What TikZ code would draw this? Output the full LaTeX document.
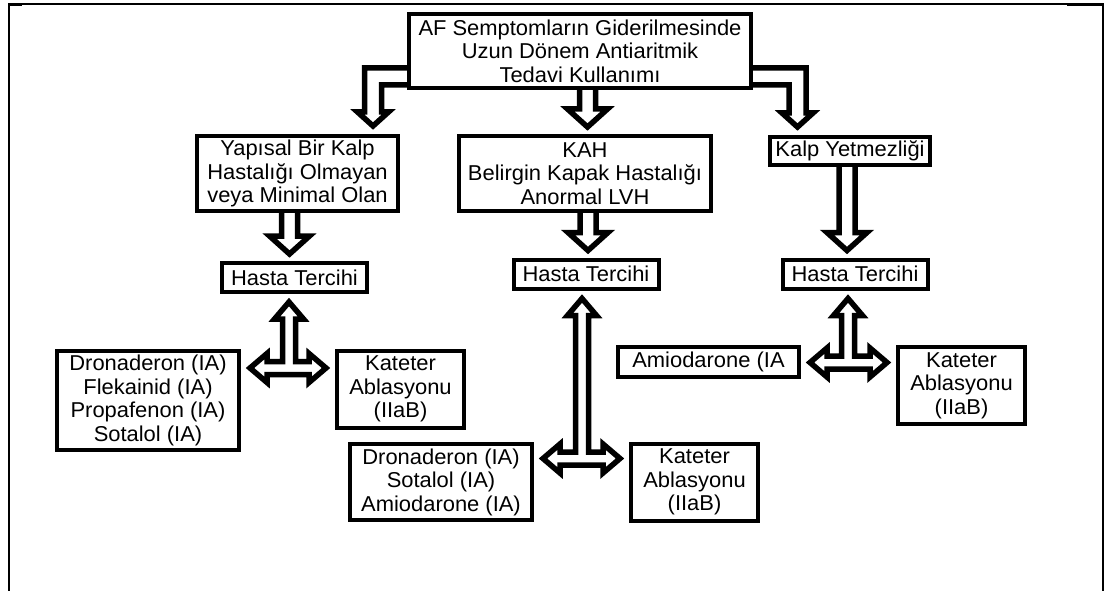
\documentclass[tikz,border=0pt]{standalone}
\usepackage{fontspec}
\setmainfont{Liberation Sans}[FakeStretch=1.02]
\usepackage{tikz}
\usetikzlibrary{calc}
\pgfdeclarelayer{background}
\pgfsetlayers{background,main}
\tikzstyle{box}=[draw,line width=4pt,fill=white,align=center,inner sep=0pt,font=\fontsize{21.5}{23.5}\selectfont]
\tikzstyle{block}=[draw,line width=5.5pt,fill=white]
\tikzstyle{frame}=[draw,line width=2pt]

\begin{document}
\begin{tikzpicture}[x=1pt,y=-1pt]
    \useasboundingbox (0,0) rectangle (1105,591);
    % outer frame
    \draw[frame] (9,591) -- (9,4) -- (1103,4) -- (1103,591);
    \draw[line width=3pt] (9,5) -- (22,5);
    \draw[line width=2pt] (1067,5.5) -- (1103,5.5);

    % First we draw the boxes
    \node[box,minimum width=342,minimum height=74] (top) at (580,51) {AF Semptomların Giderilmesinde\\Uzun Dönem Antiaritmik\\Tedavi Kullanımı};
    \node[box,minimum width=201,minimum height=75] (yapi) at (297.5,173.5) {Yapısal Bir Kalp\\Hastalığı Olmayan\\veya Minimal Olan};
    \node[box,minimum width=252,minimum height=75] (kah) at (585,173.5) {KAH\\Belirgin Kapak Hastalığı\\Anormal LVH};
    \node[box,minimum width=160,minimum height=28] (kalp) at (850,151) {Kalp Yetmezliği};

    \foreach \pos/\name in {{(294.5,277.5)/hasta1}, {(586,274)/hasta2}, {(855,274)/hasta3}}
        \node[box,minimum width=145,minimum height=29] (\name) at \pos {Hasta Tercihi};

    \node[box,minimum width=182,minimum height=99] (ilac1) at (148,400.5) {Dronaderon (IA)\\Flekainid (IA)\\Propafenon (IA)\\Sotalol (IA)};
    \node[box,minimum width=182,minimum height=76] (ilac2) at (441,482) {Dronaderon (IA)\\Sotalol (IA)\\Amiodarone (IA)};
    \node[box,minimum width=181,minimum height=30] (amio) at (708.5,362) {Amiodarone (IA};

    \foreach \pos/\name in {{(400.5,389)/kat1}, {(694.5,482)/kat2}, {(961.5,385.5)/kat3}}
        \node[box,minimum width=127,minimum height=77] (\name) at \pos {Kateter\\Ablasyonu\\(IIaB)};

    % Connect boxes with block arrows
    \begin{pgfonlayer}{background}
    \def\sw{8pt}\def\hw{20pt}\def\hl{18pt}
    \foreach \src/\dest/\dx in {top/kah/2.5, yapi/hasta1/-5, kah/hasta2/2, kalp/hasta3/-8}
        \draw[block] let \p1=(\src.south), \p2=($(\dest.north)+(\dx,-7)$) in
            (\x2-\sw,\y1) -- (\x2-\sw,\y2+\hl) -- (\x2-\hw,\y2+\hl) -- (\x2,\y2)
            -- (\x2+\hw,\y2+\hl) -- (\x2+\sw,\y2+\hl) -- (\x2+\sw,\y1);

    \def\sw{8.5pt}\def\hw{15.5pt}\def\hl{14pt}
    \draw[block] let \p1=($(top.west)+(0,25.5)$), \p2=($(yapi.north)+(75.5,-8)$) in
        (\x1,\y1+\sw) -- (\x2-\sw,\y1+\sw) -- (\x2-\sw,\y2+\hl) -- (\x2-\hw,\y2+\hl) -- (\x2,\y2)
        -- (\x2+\hw,\y2+\hl) -- (\x2+\sw,\y2+\hl) -- (\x2+\sw,\y1-\sw) -- (\x1,\y1-\sw);
    \draw[block] let \p1=($(top.east)+(0,25.5)$), \p2=($(kalp.north)+(-52.5,-8)$) in
        (\x1,\y1+\sw) -- (\x2+\sw,\y1+\sw) -- (\x2+\sw,\y2+\hl) -- (\x2+\hw,\y2+\hl) -- (\x2,\y2)
        -- (\x2-\hw,\y2+\hl) -- (\x2-\sw,\y2+\hl) -- (\x2-\sw,\y1-\sw) -- (\x1,\y1-\sw);

    \def\sw{6.5pt}\def\hw{14.5pt}\def\hl{17pt}
    \foreach \src/\lft/\rgt/\dx/\bary in {hasta1/ilac1/kat1/-5.5/74, hasta2/ilac2/kat2/-4/168, hasta3/amio/kat3/-7/72}
        \draw[block] let \p1=($(\src.south)+(\dx,8)$), \p2=($(\lft.east)+(9,0)$), \p3=($(\rgt.west)+(-9,0)$), \p4=($(\src.south)+(0,\bary)$) in
            (\x1,\y1) -- (\x1+\hw,\y1-\hl) -- (\x1+\sw,\y1-\hl) -- (\x1+\sw,\y4+\sw)
            -- (\x3-\hl,\y4+\sw) -- (\x3-\hl,\y4+\hw) -- (\x3,\y4) -- (\x3-\hl,\y4-\hw) -- (\x3-\hl,\y4-\sw)
            -- (\x2+\hl,\y4-\sw) -- (\x2+\hl,\y4-\hw) -- (\x2,\y4) -- (\x2+\hl,\y4+\hw) -- (\x2+\hl,\y4+\sw)
            -- (\x1-\sw,\y4+\sw) -- (\x1-\sw,\y1-\hl) -- (\x1-\hw,\y1-\hl) -- cycle;
    \end{pgfonlayer}

\end{tikzpicture}
\end{document}
